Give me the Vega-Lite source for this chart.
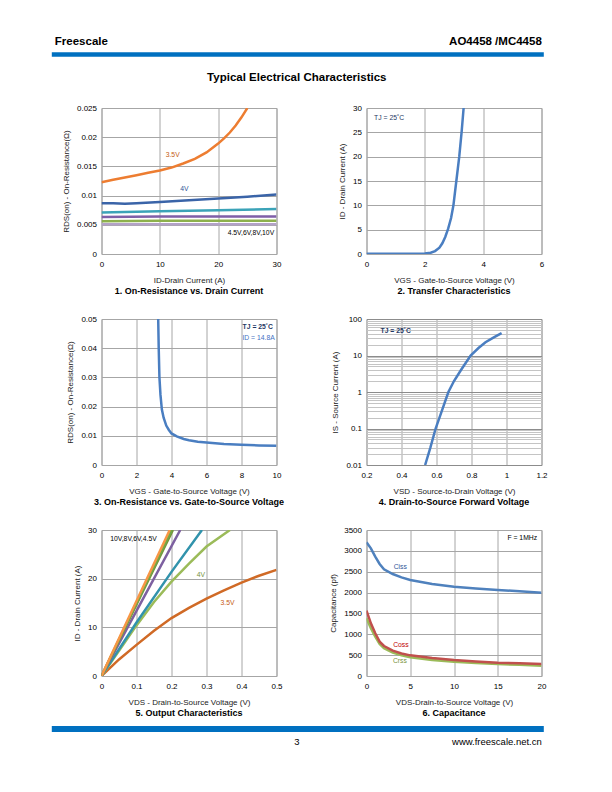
{
  "$schema": "https://vega.github.io/schema/vega-lite/v6.json",
  "padding": {"left": 48.5, "top": 30, "right": 0, "bottom": 0},
  "spacing": 0,
  "config": {
    "font": "Liberation Sans",
    "view": {"stroke": "#a6a6a6", "strokeWidth": 1},
    "axis": {"grid": true, "gridColor": "#a6a6a6", "gridWidth": 1, "domain": false, "ticks": false, "labelFontSize": 8, "labelColor": "#000000", "titleFontSize": 8, "titleFontWeight": "normal", "titleColor": "#222222", "labelFont": "Liberation Sans", "titleFont": "Liberation Sans", "labelOverlap": false},
    "axisX": {"labelPadding": 6, "titlePadding": 8, "labelFlush": false},
    "axisY": {"labelPadding": 5, "titlePadding": 6},
    "title": {"orient": "bottom", "anchor": "middle", "fontSize": 9, "fontWeight": "bold", "font": "Liberation Sans", "offset": 3, "color": "#000000"},
    "text": {"font": "Liberation Sans", "fontSize": 6.8}
  },
  "vconcat": [
    {
      "width": 442, "height": 73,
      "view": {"stroke": null},
      "encoding": {
        "x": {"field": "x", "type": "quantitative", "scale": {"domain": [0, 442], "nice": false, "zero": false}, "axis": null},
        "y": {"field": "y", "type": "quantitative", "scale": {"domain": [0, 73], "reverse": true, "nice": false}, "axis": null}
      },
      "layer": [
        {"data": {"values": [{"x": -49.7, "x2": 442.3, "y": 24.5}]}, "mark": {"type": "rule", "strokeWidth": 4.5, "color": "#0070C0"}, "encoding": {"x2": {"field": "x2"}}},
        {"data": {"values": [{"x": -46.7, "y": 12, "t": "Freescale"}]}, "mark": {"type": "text", "align": "left", "baseline": "middle", "fontSize": 11.5, "fontWeight": "bold", "color": "#000000"}, "encoding": {"text": {"field": "t"}}},
        {"data": {"values": [{"x": 440.3, "y": 12, "t": "AO4458 /MC4458"}]}, "mark": {"type": "text", "align": "right", "baseline": "middle", "fontSize": 11.5, "fontWeight": "bold", "color": "#000000"}, "encoding": {"text": {"field": "t"}}},
        {"data": {"values": [{"x": 195.3, "y": 48, "t": "Typical Electrical Characteristics"}]}, "mark": {"type": "text", "align": "center", "baseline": "middle", "fontSize": 11.5, "fontWeight": "bold", "color": "#000000"}, "encoding": {"text": {"field": "t"}}}
      ]
    },
    {
      "columns": 2,
      "spacing": {"row": 17, "column": 44},
      "resolve": {"scale": {"color": "independent"}},
      "concat": [
        {
          "width": 175, "height": 146,
          "title": "1. On-Resistance vs. Drain Current",
          "encoding": {
            "x": {"field": "x", "type": "quantitative", "scale": {"domain": [0, 30], "nice": false}, "axis": {"values": [0, 10, 20, 30], "title": "ID-Drain Current (A)"}},
            "y": {"field": "y", "type": "quantitative", "scale": {"domain": [0, 0.025], "nice": false}, "axis": {"values": [0, 0.005, 0.01, 0.015, 0.02, 0.025], "format": "~g", "title": "RDS(on) - On-Resistance(Ω)"}}
          },
          "layer": [
            {
              "data": {"values": [
                {"s": "3.5V", "x": 0, "y": 0.0123}, {"s": "3.5V", "x": 2, "y": 0.0127}, {"s": "3.5V", "x": 4, "y": 0.0131}, {"s": "3.5V", "x": 6, "y": 0.0135}, {"s": "3.5V", "x": 8, "y": 0.0139}, {"s": "3.5V", "x": 10, "y": 0.0143}, {"s": "3.5V", "x": 12, "y": 0.0148}, {"s": "3.5V", "x": 14, "y": 0.0155}, {"s": "3.5V", "x": 16, "y": 0.0163}, {"s": "3.5V", "x": 18, "y": 0.0174}, {"s": "3.5V", "x": 20, "y": 0.0189}, {"s": "3.5V", "x": 21, "y": 0.0198}, {"s": "3.5V", "x": 22, "y": 0.0208}, {"s": "3.5V", "x": 23, "y": 0.022}, {"s": "3.5V", "x": 24, "y": 0.0234}, {"s": "3.5V", "x": 25, "y": 0.025},
                {"s": "4V", "x": 0, "y": 0.0087}, {"s": "4V", "x": 2, "y": 0.0087}, {"s": "4V", "x": 4, "y": 0.0086}, {"s": "4V", "x": 6, "y": 0.0087}, {"s": "4V", "x": 10, "y": 0.0089}, {"s": "4V", "x": 15, "y": 0.0092}, {"s": "4V", "x": 20, "y": 0.0095}, {"s": "4V", "x": 25, "y": 0.0098}, {"s": "4V", "x": 30, "y": 0.0102},
                {"s": "4.5V", "x": 0, "y": 0.0071}, {"s": "4.5V", "x": 10, "y": 0.0073}, {"s": "4.5V", "x": 20, "y": 0.0075}, {"s": "4.5V", "x": 30, "y": 0.0077},
                {"s": "6V", "x": 0, "y": 0.00635}, {"s": "6V", "x": 10, "y": 0.0064}, {"s": "6V", "x": 20, "y": 0.0064}, {"s": "6V", "x": 30, "y": 0.0064},
                {"s": "8V", "x": 0, "y": 0.0056}, {"s": "8V", "x": 10, "y": 0.0057}, {"s": "8V", "x": 20, "y": 0.0057}, {"s": "8V", "x": 30, "y": 0.0057},
                {"s": "10V", "x": 0, "y": 0.0051}, {"s": "10V", "x": 15, "y": 0.0051}, {"s": "10V", "x": 30, "y": 0.0051}
              ]},
              "mark": {"type": "line", "strokeWidth": 2.5, "clip": true},
              "encoding": {"color": {"field": "s", "type": "nominal", "scale": {"domain": ["3.5V", "4V", "4.5V", "6V", "8V", "10V"], "range": ["#ED7D31", "#3A64A8", "#3BA3B8", "#7F5FA8", "#8DB04D", "#B3A2C7"]}, "legend": null}}
            },
            {"data": {"values": [{"x": 12.2, "y": 0.0169, "t": "3.5V"}]}, "mark": {"type": "text", "color": "#C55A11"}, "encoding": {"text": {"field": "t"}}},
            {"data": {"values": [{"x": 14.2, "y": 0.0112, "t": "4V"}]}, "mark": {"type": "text", "color": "#2F5597"}, "encoding": {"text": {"field": "t"}}},
            {"data": {"values": [{"x": 29.6, "y": 0.0036, "t": "4.5V,6V,8V,10V"}]}, "mark": {"type": "text", "color": "#000000", "align": "right"}, "encoding": {"text": {"field": "t"}}}
          ]
        },
        {
          "width": 175, "height": 146,
          "title": "2. Transfer Characteristics",
          "encoding": {
            "x": {"field": "x", "type": "quantitative", "scale": {"domain": [0, 6], "nice": false}, "axis": {"values": [0, 2, 4, 6], "title": "VGS - Gate-to-Source Voltage (V)"}},
            "y": {"field": "y", "type": "quantitative", "scale": {"domain": [0, 30], "nice": false}, "axis": {"values": [0, 5, 10, 15, 20, 25, 30], "title": "ID - Drain Current (A)"}}
          },
          "layer": [
            {
              "data": {"values": [
                {"x": 0, "y": 0.05}, {"x": 1, "y": 0.05}, {"x": 1.8, "y": 0.07}, {"x": 2.0, "y": 0.1}, {"x": 2.2, "y": 0.25}, {"x": 2.35, "y": 0.6}, {"x": 2.5, "y": 1.3}, {"x": 2.6, "y": 2.2}, {"x": 2.7, "y": 3.5}, {"x": 2.8, "y": 5.2}, {"x": 2.9, "y": 7.4}, {"x": 2.98, "y": 10}, {"x": 3.08, "y": 15}, {"x": 3.18, "y": 20}, {"x": 3.26, "y": 25}, {"x": 3.33, "y": 30}
              ]},
              "mark": {"type": "line", "strokeWidth": 2.5, "color": "#4A7EC1", "clip": true}
            },
            {"data": {"values": [{"x": 0.26, "y": 28, "t": "TJ = 25˚C"}]}, "mark": {"type": "text", "color": "#1F3864", "align": "left"}, "encoding": {"text": {"field": "t"}}}
          ]
        },
        {
          "width": 175, "height": 146,
          "title": "3. On-Resistance vs. Gate-to-Source Voltage",
          "encoding": {
            "x": {"field": "x", "type": "quantitative", "scale": {"domain": [0, 10], "nice": false}, "axis": {"values": [0, 2, 4, 6, 8, 10], "title": "VGS - Gate-to-Source Voltage (V)"}},
            "y": {"field": "y", "type": "quantitative", "scale": {"domain": [0, 0.05], "nice": false}, "axis": {"values": [0, 0.01, 0.02, 0.03, 0.04, 0.05], "format": "~g", "title": "RDS(on) - On-Resistance(Ω)"}}
          },
          "layer": [
            {
              "data": {"values": [
                {"x": 3.24, "y": 0.05}, {"x": 3.27, "y": 0.04}, {"x": 3.31, "y": 0.03}, {"x": 3.37, "y": 0.024}, {"x": 3.45, "y": 0.019}, {"x": 3.55, "y": 0.0162}, {"x": 3.7, "y": 0.0135}, {"x": 3.85, "y": 0.012}, {"x": 4.0, "y": 0.0108}, {"x": 4.3, "y": 0.0098}, {"x": 4.7, "y": 0.0089}, {"x": 5, "y": 0.0085}, {"x": 5.5, "y": 0.008}, {"x": 6, "y": 0.0077}, {"x": 7, "y": 0.0072}, {"x": 8, "y": 0.0069}, {"x": 9, "y": 0.0067}, {"x": 10, "y": 0.0066}
              ]},
              "mark": {"type": "line", "strokeWidth": 2.5, "color": "#4A7EC1", "clip": true}
            },
            {"data": {"values": [{"x": 9.8, "y": 0.0472, "t": "TJ = 25˚C"}]}, "mark": {"type": "text", "color": "#1F3864", "align": "right", "fontWeight": "bold"}, "encoding": {"text": {"field": "t"}}},
            {"data": {"values": [{"x": 9.9, "y": 0.0434, "t": "ID = 14.8A"}]}, "mark": {"type": "text", "color": "#4472C4", "align": "right"}, "encoding": {"text": {"field": "t"}}}
          ]
        },
        {
          "width": 175, "height": 146,
          "title": "4. Drain-to-Source Forward Voltage",
          "encoding": {
            "x": {"field": "x", "type": "quantitative", "scale": {"domain": [0.2, 1.2], "nice": false, "zero": false}, "axis": {"values": [0.2, 0.4, 0.6, 0.8, 1, 1.2], "format": "~g", "title": "VSD - Source-to-Drain Voltage (V)"}},
            "y": {"field": "y", "type": "quantitative", "scale": {"type": "log", "domain": [0.01, 100], "nice": false}, "axis": {
              "values": [0.01, 0.02, 0.03, 0.04, 0.05, 0.06, 0.07, 0.08, 0.09, 0.1, 0.2, 0.3, 0.4, 0.5, 0.6, 0.7, 0.8, 0.9, 1, 2, 3, 4, 5, 6, 7, 8, 9, 10, 20, 30, 40, 50, 60, 70, 80, 90, 100],
              "labelExpr": "indexof(['0.01','0.1','1','10','100'], format(datum.value, '~g')) >= 0 ? format(datum.value, '~g') : ''",
              "gridColor": {"condition": {"test": "indexof(['0.01','0.1','1','10','100'], format(datum.value, '~g')) >= 0", "value": "#8c8c8c"}, "value": "#c4c4c4"},
              "title": "IS - Source Current (A)"}}
          },
          "layer": [
            {
              "data": {"values": [
                {"x": 0.535, "y": 0.01}, {"x": 0.565, "y": 0.03}, {"x": 0.595, "y": 0.1}, {"x": 0.63, "y": 0.3}, {"x": 0.668, "y": 1}, {"x": 0.7, "y": 2}, {"x": 0.74, "y": 4}, {"x": 0.795, "y": 10}, {"x": 0.84, "y": 16}, {"x": 0.88, "y": 23}, {"x": 0.93, "y": 32}, {"x": 0.972, "y": 41}
              ]},
              "mark": {"type": "line", "strokeWidth": 2.5, "color": "#4A7EC1", "clip": true}
            },
            {"data": {"values": [{"x": 0.28, "y": 47, "t": "TJ = 25˚C"}]}, "mark": {"type": "text", "color": "#1F3864", "align": "left", "fontWeight": "bold"}, "encoding": {"text": {"field": "t"}}}
          ]
        },
        {
          "width": 175, "height": 146,
          "title": "5. Output Characteristics",
          "encoding": {
            "x": {"field": "x", "type": "quantitative", "scale": {"domain": [0, 0.5], "nice": false}, "axis": {"values": [0, 0.1, 0.2, 0.3, 0.4, 0.5], "format": "~g", "title": "VDS - Drain-to-Source Voltage (V)"}},
            "y": {"field": "y", "type": "quantitative", "scale": {"domain": [0, 30], "nice": false}, "axis": {"values": [0, 10, 20, 30], "title": "ID - Drain Current (A)"}}
          },
          "layer": [
            {
              "data": {"values": [
                {"s": "3.5V", "x": 0, "y": 0}, {"s": "3.5V", "x": 0.05, "y": 3.4}, {"s": "3.5V", "x": 0.1, "y": 6.4}, {"s": "3.5V", "x": 0.15, "y": 9.3}, {"s": "3.5V", "x": 0.2, "y": 11.9}, {"s": "3.5V", "x": 0.25, "y": 14.0}, {"s": "3.5V", "x": 0.3, "y": 15.9}, {"s": "3.5V", "x": 0.35, "y": 17.6}, {"s": "3.5V", "x": 0.4, "y": 19.2}, {"s": "3.5V", "x": 0.45, "y": 20.6}, {"s": "3.5V", "x": 0.5, "y": 21.8},
                {"s": "4V", "x": 0, "y": 0}, {"s": "4V", "x": 0.05, "y": 5.2}, {"s": "4V", "x": 0.1, "y": 10.4}, {"s": "4V", "x": 0.15, "y": 15.2}, {"s": "4V", "x": 0.2, "y": 19.4}, {"s": "4V", "x": 0.25, "y": 23.1}, {"s": "4V", "x": 0.3, "y": 26.6}, {"s": "4V", "x": 0.367, "y": 30},
                {"s": "4.2V", "x": 0, "y": 0}, {"s": "4.2V", "x": 0.1, "y": 11}, {"s": "4.2V", "x": 0.2, "y": 21.4}, {"s": "4.2V", "x": 0.287, "y": 30},
                {"s": "4.5V", "x": 0, "y": 0}, {"s": "4.5V", "x": 0.1, "y": 13.4}, {"s": "4.5V", "x": 0.225, "y": 30},
                {"s": "6V", "x": 0, "y": 0}, {"s": "6V", "x": 0.1, "y": 14.7}, {"s": "6V", "x": 0.204, "y": 30},
                {"s": "8V", "x": 0, "y": 0}, {"s": "8V", "x": 0.1, "y": 15}, {"s": "8V", "x": 0.2, "y": 30},
                {"s": "10V", "x": 0, "y": 0}, {"s": "10V", "x": 0.1, "y": 15.4}, {"s": "10V", "x": 0.195, "y": 30}
              ]},
              "mark": {"type": "line", "strokeWidth": 2.5, "clip": true},
              "encoding": {"color": {"field": "s", "type": "nominal", "scale": {"domain": ["3.5V", "4V", "4.2V", "4.5V", "6V", "8V", "10V"], "range": ["#D06A26", "#9BBB59", "#3193AC", "#7D60A0", "#77933C", "#6FAA46", "#F79646"]}, "legend": null}}
            },
            {"data": {"values": [{"x": 0.025, "y": 28.1, "t": "10V,8V,6V,4.5V"}]}, "mark": {"type": "text", "color": "#000000", "align": "left"}, "encoding": {"text": {"field": "t"}}},
            {"data": {"values": [{"x": 0.284, "y": 20.75, "t": "4V"}]}, "mark": {"type": "text", "color": "#77933C"}, "encoding": {"text": {"field": "t"}}},
            {"data": {"values": [{"x": 0.36, "y": 15.1, "t": "3.5V"}]}, "mark": {"type": "text", "color": "#C55A11"}, "encoding": {"text": {"field": "t"}}}
          ]
        },
        {
          "width": 175, "height": 146,
          "title": "6. Capacitance",
          "encoding": {
            "x": {"field": "x", "type": "quantitative", "scale": {"domain": [0, 20], "nice": false}, "axis": {"values": [0, 5, 10, 15, 20], "title": "VDS-Drain-to-Source Voltage (V)"}},
            "y": {"field": "y", "type": "quantitative", "scale": {"domain": [0, 3500], "nice": false}, "axis": {"values": [0, 500, 1000, 1500, 2000, 2500, 3000, 3500], "format": "d", "title": "Capacitance (pf)"}}
          },
          "layer": [
            {
              "data": {"values": [
                {"s": "Ciss", "x": 0, "y": 3204}, {"s": "Ciss", "x": 0.5, "y": 3060}, {"s": "Ciss", "x": 1, "y": 2860}, {"s": "Ciss", "x": 1.5, "y": 2685}, {"s": "Ciss", "x": 2, "y": 2557}, {"s": "Ciss", "x": 3, "y": 2445}, {"s": "Ciss", "x": 4, "y": 2365}, {"s": "Ciss", "x": 5, "y": 2301}, {"s": "Ciss", "x": 7.5, "y": 2205}, {"s": "Ciss", "x": 10, "y": 2141}, {"s": "Ciss", "x": 12.5, "y": 2100}, {"s": "Ciss", "x": 15, "y": 2062}, {"s": "Ciss", "x": 17.5, "y": 2030}, {"s": "Ciss", "x": 20, "y": 1998},
                {"s": "Crss", "x": 0, "y": 1382}, {"s": "Crss", "x": 0.5, "y": 1143}, {"s": "Crss", "x": 1, "y": 943}, {"s": "Crss", "x": 1.5, "y": 767}, {"s": "Crss", "x": 2, "y": 663}, {"s": "Crss", "x": 3, "y": 559}, {"s": "Crss", "x": 4, "y": 495}, {"s": "Crss", "x": 5, "y": 447}, {"s": "Crss", "x": 7.5, "y": 383}, {"s": "Crss", "x": 10, "y": 343}, {"s": "Crss", "x": 12.5, "y": 313}, {"s": "Crss", "x": 15, "y": 288}, {"s": "Crss", "x": 17.5, "y": 267}, {"s": "Crss", "x": 20, "y": 248},
                {"s": "Coss", "x": 0, "y": 1566}, {"s": "Coss", "x": 0.5, "y": 1262}, {"s": "Coss", "x": 1, "y": 1023}, {"s": "Coss", "x": 1.5, "y": 823}, {"s": "Coss", "x": 2, "y": 719}, {"s": "Coss", "x": 3, "y": 607}, {"s": "Coss", "x": 4, "y": 540}, {"s": "Coss", "x": 5, "y": 495}, {"s": "Coss", "x": 7.5, "y": 431}, {"s": "Coss", "x": 10, "y": 384}, {"s": "Coss", "x": 12.5, "y": 350}, {"s": "Coss", "x": 15, "y": 320}, {"s": "Coss", "x": 17.5, "y": 303}, {"s": "Coss", "x": 20, "y": 288}
              ]},
              "mark": {"type": "line", "strokeWidth": 2.5, "clip": true},
              "encoding": {"color": {"field": "s", "type": "nominal", "scale": {"domain": ["Ciss", "Coss", "Crss"], "range": ["#4F81BD", "#C0504D", "#9BBB59"]}, "legend": null}}
            },
            {"data": {"values": [{"x": 19.5, "y": 3300, "t": "F = 1MHz"}]}, "mark": {"type": "text", "color": "#000000", "align": "right"}, "encoding": {"text": {"field": "t"}}},
            {"data": {"values": [{"x": 3.86, "y": 2606, "t": "Ciss"}]}, "mark": {"type": "text", "color": "#2F5597"}, "encoding": {"text": {"field": "t"}}},
            {"data": {"values": [{"x": 3.93, "y": 743, "t": "Coss"}]}, "mark": {"type": "text", "color": "#C00000"}, "encoding": {"text": {"field": "t"}}},
            {"data": {"values": [{"x": 3.82, "y": 369, "t": "Crss"}]}, "mark": {"type": "text", "color": "#77933C"}, "encoding": {"text": {"field": "t"}}}
          ]
        }
      ]
    },
    {
      "width": 442, "height": 30,
      "view": {"stroke": null},
      "encoding": {
        "x": {"field": "x", "type": "quantitative", "scale": {"domain": [0, 442], "nice": false, "zero": false}, "axis": null},
        "y": {"field": "y", "type": "quantitative", "scale": {"domain": [0, 30], "reverse": true, "nice": false}, "axis": null}
      },
      "layer": [
        {"data": {"values": [{"x": -49.7, "x2": 442.3, "y": 10}]}, "mark": {"type": "rule", "strokeWidth": 6, "color": "#0070C0"}, "encoding": {"x2": {"field": "x2"}}},
        {"data": {"values": [{"x": 195.3, "y": 23, "t": "3"}]}, "mark": {"type": "text", "align": "center", "baseline": "middle", "fontSize": 9.5, "color": "#000000"}, "encoding": {"text": {"field": "t"}}},
        {"data": {"values": [{"x": 440.3, "y": 23, "t": "www.freescale.net.cn"}]}, "mark": {"type": "text", "align": "right", "baseline": "middle", "fontSize": 9.5, "color": "#000000"}, "encoding": {"text": {"field": "t"}}}
      ]
    }
  ]
}
